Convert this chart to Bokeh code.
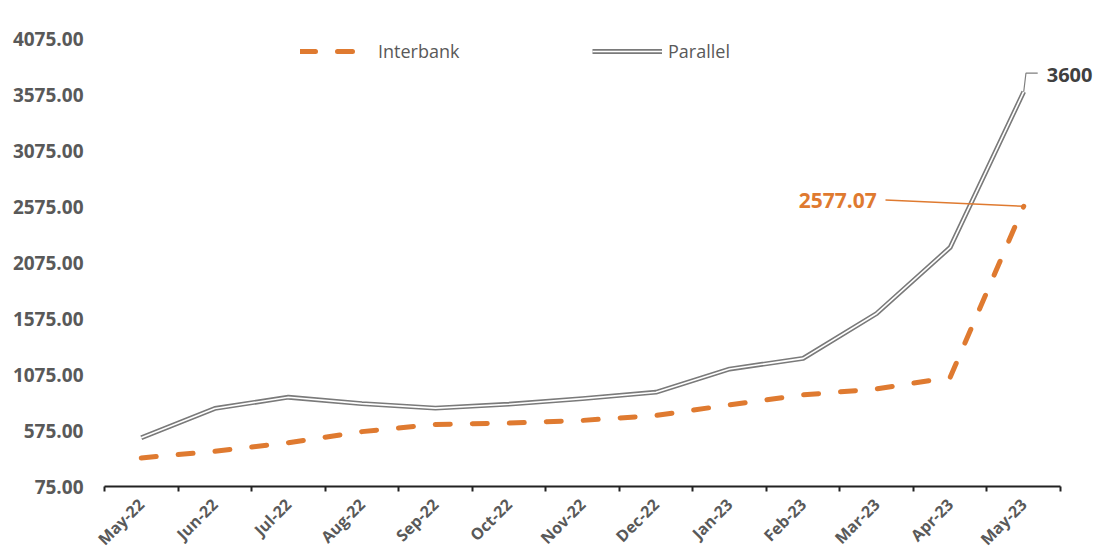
from math import pi
from bokeh.plotting import figure
from bokeh.models import (Range1d, FixedTicker, NumeralTickFormatter, Legend, LegendItem, Label)
from bokeh.embed import file_html
from bokeh.resources import INLINE

months = ["May-22", "Jun-22", "Jul-22", "Aug-22", "Sep-22", "Oct-22", "Nov-22",
          "Dec-22", "Jan-23", "Feb-23", "Mar-23", "Apr-23", "May-23"]
interbank = [330, 390, 466, 565, 629, 641, 665, 709, 804, 893, 946, 1050, 2577.07]
parallel = [510, 772, 872, 815, 775, 810, 860, 917, 1124, 1219, 1620, 2210, 3600]
y_ticks = [75, 575, 1075, 1575, 2075, 2575, 3075, 3575, 4075]

ORANGE = "#DF7A30"
GREY_TXT = "#595959"
FONT = "Open Sans"

n = len(months)
xs = [i + 0.5 for i in range(n)]

W, H = 1098, 560
LEFT, RIGHT_AXIS, TOP, BOTTOM = 104, 1060, 38, 488
# frame extends to the right edge so the end label is not clipped;
# the axis line itself is bounded to the categories
x_end = n * (W - LEFT) / (RIGHT_AXIS - LEFT)

p = figure(width=W, height=H, output_backend="svg", toolbar_location=None,
           x_range=Range1d(0, x_end), y_range=Range1d(y_ticks[0], y_ticks[-1]),
           min_border_left=LEFT, min_border_right=0, min_border_top=TOP,
           min_border_bottom=H - BOTTOM)
p.outline_line_color = None
p.xgrid.visible = False
p.ygrid.visible = False
p.background_fill_color = "white"
p.border_fill_color = "white"

# y axis
p.yaxis.ticker = FixedTicker(ticks=y_ticks)
p.yaxis.formatter = NumeralTickFormatter(format="0.00")
p.yaxis.axis_line_color = None
p.yaxis.major_tick_line_color = None
p.yaxis.minor_tick_line_color = None
p.yaxis.major_tick_out = 0
p.yaxis.major_tick_in = 0
p.yaxis.major_label_standoff = 21
p.yaxis.major_label_text_font = FONT
p.yaxis.major_label_text_font_size = "19px"
p.yaxis.major_label_text_font_style = "bold"
p.yaxis.major_label_text_color = GREY_TXT

# x axis: labels at category centres, ticks at boundaries
p.xaxis.bounds = (0, n)
p.xaxis.ticker = FixedTicker(ticks=xs, minor_ticks=list(range(n + 1)))
p.xaxis.major_label_overrides = {x: m for x, m in zip(xs, months)}
p.xaxis.major_tick_line_color = None
p.xaxis.major_tick_out = 0
p.xaxis.major_tick_in = 0
p.xaxis.minor_tick_out = 5
p.xaxis.minor_tick_in = 0
p.xaxis.minor_tick_line_color = "#222222"
p.xaxis.minor_tick_line_width = 2
p.xaxis.axis_line_color = "#222222"
p.xaxis.axis_line_width = 2
p.xaxis.major_label_orientation = pi / 4
p.xaxis.major_label_standoff = 10
p.xaxis.major_label_text_font = FONT
p.xaxis.major_label_text_font_size = "16px"
p.xaxis.major_label_text_font_style = "bold"
p.xaxis.major_label_text_color = GREY_TXT

# series
r_ib = p.line(xs, interbank, line_color=ORANGE, line_width=5, line_dash="15 22",
              line_cap="round", line_join="round")
r_par_out = p.line(xs, parallel, line_color="#7a7a7a", line_width=4.8, line_join="round")
r_par_in = p.line(xs, parallel, line_color="white", line_width=1.6, line_join="round")

common = dict(glyph_height=26, label_height=26, padding=0, margin=0, spacing=0,
              border_line_color=None, background_fill_alpha=0,
              label_text_font=FONT, label_text_font_size="18px",
              label_text_color=GREY_TXT, label_text_baseline="middle")
leg1 = Legend(items=[LegendItem(label="Interbank", renderers=[r_ib])],
              location=(196, 422), glyph_width=58, label_standoff=20, **common)
leg2 = Legend(items=[LegendItem(label="Parallel", renderers=[r_par_out, r_par_in])],
              location=(488, 422), glyph_width=70, label_standoff=6, **common)
p.add_layout(leg1)
p.add_layout(leg2)

# annotations for last values
last_x = xs[-1]
ib_last = interbank[-1]
par_last = parallel[-1]
p.line([last_x - 1.88, last_x], [ib_last + 55, ib_last], line_color=ORANGE, line_width=1.5)
p.add_layout(Label(x=last_x, y=ib_last, x_offset=-147, y_offset=6,
                   text=f"{ib_last:.2f}", text_align="right", text_baseline="middle",
                   text_font=FONT, text_font_size="21px", text_font_style="bold",
                   text_color=ORANGE))
p.line([last_x, last_x + 0.03, last_x + 0.19], [par_last, par_last + 165, par_last + 165],
       line_color="#7f7f7f", line_width=1.2)
p.add_layout(Label(x=last_x, y=par_last, x_offset=23, y_offset=17,
                   text=f"{par_last:.0f}", text_align="left", text_baseline="middle",
                   text_font=FONT, text_font_size="20px", text_font_style="bold",
                   text_color="#404040"))

open("out.html", "w").write(file_html(p, INLINE))
